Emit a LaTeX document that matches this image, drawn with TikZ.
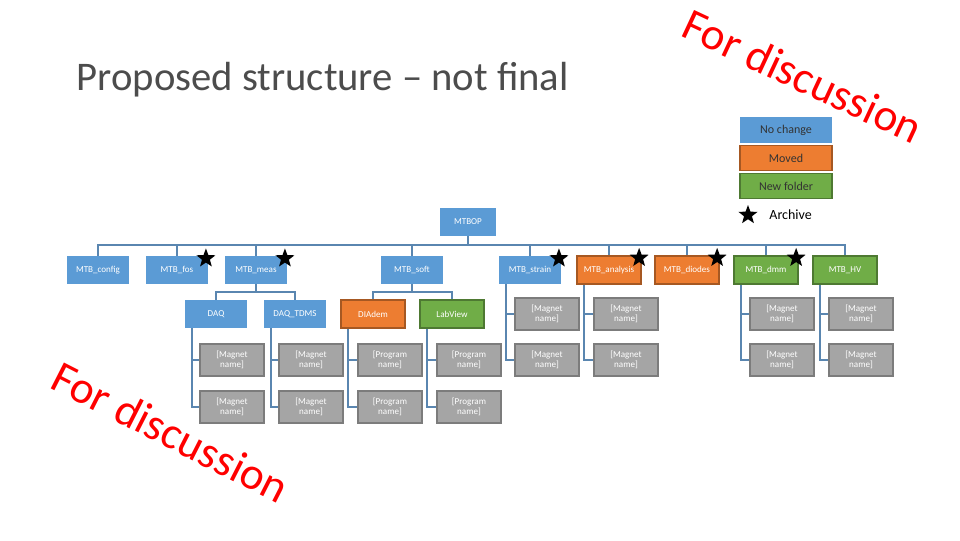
\documentclass[tikz,border=0pt]{standalone}
\usepackage{fontspec}
\setmainfont{Carlito}
\usetikzlibrary{positioning,shapes.geometric}
\definecolor{blueb}{HTML}{5B9BD5}
\definecolor{orangeb}{HTML}{ED7D31}
\definecolor{greenb}{HTML}{70AD47}
\definecolor{grayb}{HTML}{A5A5A5}
\definecolor{linkc}{HTML}{5A86B0}
\tikzset{
    box/.style={
        rectangle,
        minimum width=47pt,
        minimum height=21pt,
        inner sep=0,
        text=white,
        font=\fontsize{6.8}{7}\selectfont
    },
    bluebox/.style={box, fill=blueb},
    orangebox/.style={box, fill=orangeb, draw=orangeb!70!black, line width=1.2pt, minimum width=48pt},
    greenbox/.style={box, fill=greenb, draw=greenb!70!black, line width=1.2pt, minimum width=48pt},
    graybox/.style={box, fill=grayb, draw=grayb!75!black, line width=1.2pt,
        minimum width=48pt, minimum height=24pt, align=center, font=\fontsize{6.8}{7.5}\selectfont},
    legend/.style={rectangle, minimum width=69pt, minimum height=19pt, inner sep=0,
        text=black!80, font=\fontsize{9}{9}\selectfont},
    archive/.style={star, star points=5, star point ratio=2.4, fill=black, inner sep=0, minimum size=15pt},
    link/.style={draw=linkc, line width=1.4pt},
    discuss/.style={text=red, font=\fontsize{34}{34}\selectfont, inner sep=0}
}
\begin{document}
\begin{tikzpicture}[x=0.75pt,y=-0.75pt]
\useasboundingbox (0,0) rectangle (960,540);
% title
\node[anchor=west, font=\fontsize{30.5}{30}\selectfont, text=black!70] (title) at (72,80) {Proposed structure -- not final};
% legend
\node[legend, fill=blueb] (lgnone) at (786,130) {No change};
\node[legend, fill=orangeb, draw=orangeb!70!black, line width=1pt] (lgmoved) at (786,158) {Moved};
\node[legend, fill=greenb, draw=greenb!70!black, line width=1pt] (lgnew) at (786,186) {New folder};
\node[archive] (lgstar) at (748,215) {};
\node[font=\fontsize{10.5}{11}\selectfont, right=8pt of lgstar] (lgarch) {Archive};
% tree
\node[bluebox, minimum width=42pt] (mtbop) at (468,222) {MTBOP};
\coordinate (bus) at (468,245);
\node[bluebox] (config) at (98,270) {MTB\_config};
\node[bluebox] (fos) at (177,270) {MTB\_fos};
\node[bluebox] (meas) at (256,270) {MTB\_meas};
\node[bluebox] (soft) at (412,270) {MTB\_soft};
\node[bluebox] (strain) at (530,270) {MTB\_strain};
\node[orangebox] (analysis) at (609,270) {MTB\_analysis};
\node[orangebox] (diodes) at (687,270) {MTB\_diodes};
\node[greenbox] (dmm) at (766,270) {MTB\_dmm};
\node[greenbox] (hv) at (845,270) {MTB\_HV};
\foreach \n in {config,fos,meas,soft,strain,analysis,diodes,dmm,hv}
    \draw[link] (mtbop.south) -- (mtbop.south |- bus) -| (\n.north);
% second level
\node[bluebox] (daq) at (216,314) {DAQ};
\node[bluebox] (tdms) at (295,314) {DAQ\_TDMS};
\node[orangebox] (diadem) at (373,314) {DIAdem};
\node[greenbox] (labview) at (452,314) {LabView};
\foreach \n in {daq,tdms}
    \draw[link] (meas.south) -- (meas.south |- 0,292) -| (\n.north);
\foreach \n in {diadem,labview}
    \draw[link] (soft.south) -- (soft.south |- 0,292) -| (\n.north);
% leaf folders
\node[graybox] (daqa) at (232,360) {[Magnet\\name]};
\node[graybox] (daqb) at (232,407) {[Magnet\\name]};
\node[graybox] (tdmsa) at (311,360) {[Magnet\\name]};
\node[graybox] (tdmsb) at (311,407) {[Magnet\\name]};
\node[graybox] (diadema) at (390,360) {[Program\\name]};
\node[graybox] (diademb) at (390,407) {[Program\\name]};
\node[graybox] (labviewa) at (469,360) {[Program\\name]};
\node[graybox] (labviewb) at (469,407) {[Program\\name]};
\node[graybox] (straina) at (547,314) {[Magnet\\name]};
\node[graybox] (strainb) at (547,360) {[Magnet\\name]};
\node[graybox] (analysisa) at (626,314) {[Magnet\\name]};
\node[graybox] (analysisb) at (626,360) {[Magnet\\name]};
\node[graybox] (dmma) at (782,314) {[Magnet\\name]};
\node[graybox] (dmmb) at (782,360) {[Magnet\\name]};
\node[graybox] (hva) at (861,314) {[Magnet\\name]};
\node[graybox] (hvb) at (861,360) {[Magnet\\name]};
\foreach \p in {daq,tdms,diadem,labview,strain,analysis,dmm,hv} {
    \draw[link] ([xshift=6pt]\p.south west) |- (\p a.west);
    \draw[link] ([xshift=6pt]\p.south west) |- (\p b.west);
}
% archive marks
\foreach \n in {fos,meas,strain,analysis,diodes,dmm}
    \node[archive] at ([xshift=-2pt,yshift=-2pt]\n.north east) {};
% for discussion
\node[discuss, rotate=-25] (discussa) at (803,76) {For discussion};
\node[discuss, rotate=-27] (discussb) at (171,432) {For discussion};
\end{tikzpicture}
\end{document}
